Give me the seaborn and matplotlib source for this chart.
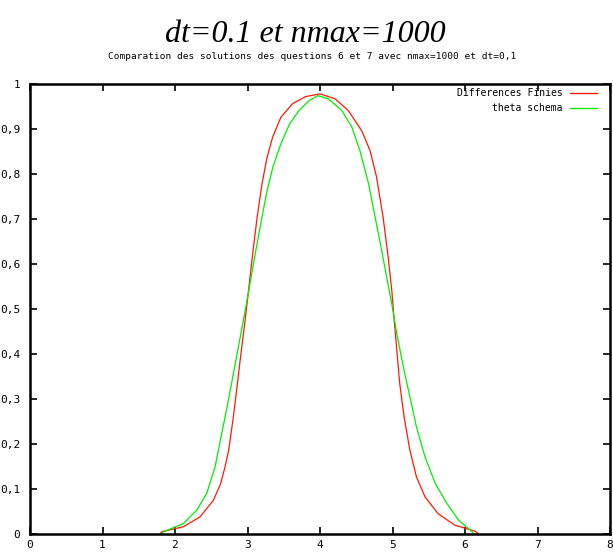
import matplotlib
matplotlib.use("Agg")
import matplotlib.pyplot as plt
import seaborn as sns
import pandas as pd

# ---- data ----
x_df = [1.80, 1.816, 2.115, 2.345, 2.53, 2.63, 2.69, 2.74, 2.805, 2.86,
        2.915, 2.972, 3.025, 3.077, 3.133, 3.20, 3.27, 3.345, 3.46, 3.62,
        3.80, 4.0, 4.207, 4.39, 4.575, 4.69, 4.78, 4.87, 4.94, 4.99,
        5.02, 5.06, 5.10, 5.16, 5.24, 5.33, 5.45, 5.63, 5.86, 6.14, 6.18]
y_df = [0.0, 0.004, 0.015, 0.037, 0.074, 0.111, 0.148, 0.185, 0.259, 0.333,
        0.407, 0.481, 0.556, 0.63, 0.704, 0.778, 0.837, 0.881, 0.926, 0.956,
        0.972, 0.978, 0.967, 0.941, 0.896, 0.852, 0.793, 0.704, 0.615, 0.541,
        0.481, 0.407, 0.333, 0.259, 0.185, 0.126, 0.081, 0.044, 0.0185, 0.005, 0.0]

x_th = [1.82, 1.84, 2.115, 2.30, 2.437, 2.552, 2.644, 2.736, 2.822, 2.908,
        2.985, 3.05, 3.115, 3.20, 3.27, 3.35, 3.46, 3.58, 3.71, 3.85,
        3.97, 4.115, 4.30, 4.44, 4.55, 4.67, 4.76, 4.85, 4.92, 4.99,
        5.06, 5.15, 5.24, 5.33, 5.45, 5.59, 5.75, 5.91, 6.09, 6.12]
y_th = [0.0, 0.004, 0.022, 0.052, 0.089, 0.148, 0.222, 0.296, 0.370, 0.444,
        0.511, 0.570, 0.63, 0.704, 0.763, 0.815, 0.867, 0.911, 0.941, 0.963,
        0.974, 0.967, 0.941, 0.904, 0.852, 0.778, 0.704, 0.63, 0.570, 0.511,
        0.444, 0.370, 0.304, 0.237, 0.170, 0.111, 0.067, 0.030, 0.005, 0.0]

series_names = ["Differences Finies", "theta schema"]
x_ticks = [0, 1, 2, 3, 4, 5, 6, 7, 8]
y_ticks = [0, 0.1, 0.2, 0.3, 0.4, 0.5, 0.6, 0.7, 0.8, 0.9, 1]
y_tick_labels = ["0", "0,1", "0,2", "0,3", "0,4", "0,5", "0,6", "0,7", "0,8", "0,9", "1"]

df = pd.concat([
    pd.DataFrame({"x": x_df, "y": y_df, "s": series_names[0]}),
    pd.DataFrame({"x": x_th, "y": y_th, "s": series_names[1]}),
], ignore_index=True)

sns.set_theme(style="white")
plt.rcParams["font.family"] = ["DejaVu Sans Mono"]
plt.rcParams["text.color"] = "black"
plt.rcParams["axes.labelcolor"] = "black"

fig = plt.figure(figsize=(6.13, 5.55), dpi=100)
ax = fig.add_axes([30 / 613, (555 - 533.5) / 555, 580 / 613, 449.5 / 555])

palette = {series_names[0]: "#ff1a00", series_names[1]: "#00ee00"}
sns.lineplot(data=df, x="x", y="y", hue="s", palette=palette, sort=False,
             estimator=None, linewidth=0.9, ax=ax)

ax.set_xlim(0, 8)
ax.set_ylim(0, 1)
ax.set_xticks(x_ticks)
ax.set_xticklabels([str(t) for t in x_ticks])
ax.set_yticks(y_ticks)
ax.set_yticklabels(y_tick_labels)
ax.set_xlabel("")
ax.set_ylabel("")
ax.tick_params(axis="both", which="major", direction="in", length=5, width=1.2,
               colors="black", labelsize=8, top=True, right=True,
               bottom=True, left=True)
ax.tick_params(axis="x", pad=5)
ax.tick_params(axis="y", pad=7)
for sp in ax.spines.values():
    sp.set_visible(True)
    sp.set_color("black")
    sp.set_linewidth(1.8)
ax.grid(False)

leg = ax.legend(loc="upper right", bbox_to_anchor=(1 - 13 / 580, 1 - 4 / 449.5),
                frameon=False, markerfirst=False, fontsize=7, handlelength=2.75,
                handletextpad=0.8, labelspacing=0.55, borderpad=0, borderaxespad=0)
for line in leg.get_lines():
    line.set_linewidth(1.0)
for t in leg.get_texts():
    t.set_color("black")

fig.text(305 / 613, 1 - 42 / 555, "dt=0.1 et nmax=1000", ha="center", va="baseline",
         fontsize=23, fontstyle="italic", family=["Liberation Serif"], color="black")
fig.text(312 / 613, 1 - 59 / 555,
         "Comparation des solutions des questions 6 et 7 avec nmax=1000 et dt=0,1",
         ha="center", va="baseline", fontsize=6.8, family=["DejaVu Sans Mono"],
         color="black")

fig.savefig("out.png", dpi=100)
